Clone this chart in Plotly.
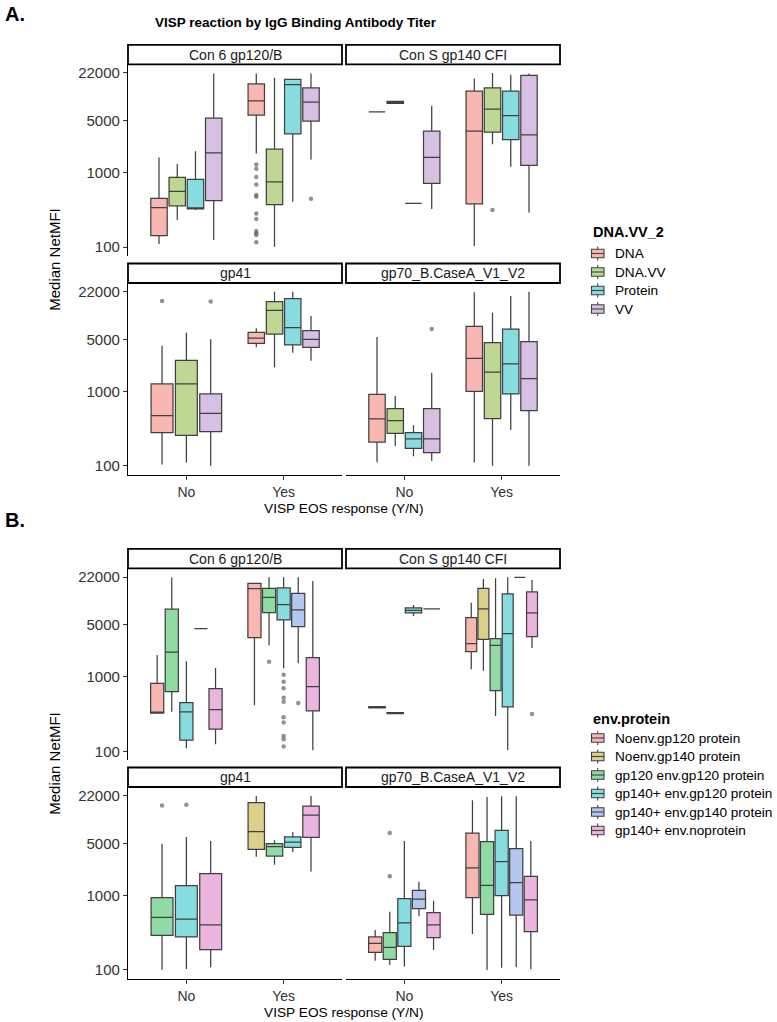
import plotly.graph_objects as go
import math

W, H = 777, 1022

CATS = ["No", "Yes"]
FACETS = ["Con 6 gp120/B", "Con S gp140 CFI", "gp41", "gp70_B.CaseA_V1_V2"]
Y_TICKS = [100, 1000, 5000, 22000]

GROUPS_A = ["DNA", "DNA.VV", "Protein", "VV"]
GROUPS_B = ["Noenv.gp120 protein", "Noenv.gp140 protein", "gp120 env.gp120 protein",
            "gp140+ env.gp120 protein", "gp140+ env.gp140 protein", "gp140+ env.noprotein"]

# (category, group, lower whisker, q1, median, q3, upper whisker)
A_CON6 = [
    ("No", "DNA", 110, 142, 338, 451, 1603),
    ("No", "DNA.VV", 231, 359, 560, 863, 1306),
    ("No", "Protein", 316, 327, 332, 811, 1950),
    ("No", "VV", 124, 420, 1853, 5420, 21600),
    ("Yes", "DNA", 1815, 5940, 9270, 15670, 21600),
    ("Yes", "DNA.VV", 101, 371, 755, 2075, 19050),
    ("Yes", "Protein", 407, 3335, 15350, 18100, 18100),
    ("Yes", "VV", 1507, 4940, 8890, 13870, 21600),
]
A_CON6_OUT = [("Yes", "DNA", [1291, 1130, 873, 695, 500, 475, 283, 238, 164, 153, 145, 116]),
              ("Yes", "VV", [447])]

A_CONS = [
    ("No", "DNA", 6590, 6590, 6590, 6590, 6590),
    ("No", "DNA.VV", 8610, 8610, 8880, 9160, 9160),
    ("No", "Protein", 386, 386, 386, 386, 386),
    ("No", "VV", 324, 718, 1603, 3620, 7940),
    ("Yes", "DNA", 103, 382, 3620, 12500, 18500),
    ("Yes", "DNA.VV", 2420, 3515, 7160, 13870, 22000),
    ("Yes", "Protein", 1203, 2800, 5890, 12500, 20900),
    ("Yes", "VV", 292, 1253, 3240, 20500, 21600),
]
A_CONS_OUT = [("Yes", "DNA.VV", [314])]

A_GP41 = [
    ("No", "DNA", 105, 281, 475, 1265, 4140),
    ("No", "DNA.VV", 111, 258, 1265, 2630, 6200),
    ("No", "VV", 101, 289, 510, 929, 5035),
    ("Yes", "DNA", 3940, 4460, 5250, 6270, 7080),
    ("Yes", "DNA.VV", 2117, 5940, 12360, 16200, 22000),
    ("Yes", "Protein", 3335, 4230, 7230, 17750, 22000),
    ("Yes", "VV", 2607, 3940, 5035, 6590, 10380),
]
A_GP41_OUT = [("No", "DNA", [16500]), ("No", "VV", [16200])]

A_GP70 = [
    ("No", "DNA", 112, 210, 429, 918, 5420),
    ("No", "DNA.VV", 186, 275, 406, 590, 873),
    ("No", "Protein", 135, 173, 231, 281, 352),
    ("No", "VV", 117, 151, 231, 590, 1795),
    ("Yes", "DNA", 111, 1008, 2800, 7530, 21600),
    ("Yes", "DNA.VV", 101, 432, 1832, 4550, 11510),
    ("Yes", "Protein", 305, 929, 2350, 6930, 19270),
    ("Yes", "VV", 101, 555, 1493, 4690, 22000),
]
A_GP70_OUT = [("No", "VV", [6930])]

B_CON6 = [
    ("No", "Noenv.gp120 protein", 327, 327, 334, 820, 1972),
    ("No", "gp120 env.gp120 protein", 341, 634, 2144, 8110, 21600),
    ("No", "gp140+ env.gp120 protein", 110, 141, 338, 451, 1622),
    ("No", "gp140+ env.gp140 protein", 4460, 4460, 4460, 4460, 4460),
    ("No", "gp140+ env.noprotein", 124, 198, 363, 695, 1318),
    ("Yes", "Noenv.gp120 protein", 415, 3375, 15350, 18100, 18100),
    ("Yes", "gp120 env.gp120 protein", 2660, 7310, 11750, 15520, 21800),
    ("Yes", "gp140+ env.gp120 protein", 1306, 5820, 9350, 15700, 21800),
    ("Yes", "gp140+ env.gp140 protein", 1524, 4740, 7940, 13300, 21800),
    ("Yes", "gp140+ env.noprotein", 103, 349, 740, 1815, 19450),
]
B_CON6_OUT = [("Yes", "gp120 env.gp120 protein", [1603]),
              ("Yes", "gp140+ env.gp120 protein", [1072, 863, 703, 526, 465, 286, 243, 161, 145, 116]),
              ("Yes", "gp140+ env.gp140 protein", [447])]

B_CONS = [
    ("No", "Noenv.gp120 protein", 382, 382, 390, 398, 398),
    ("No", "gp120 env.gp120 protein", 322, 322, 327, 332, 332),
    ("No", "gp140+ env.gp120 protein", 6590, 7230, 7850, 8450, 9270),
    ("No", "gp140+ env.gp140 protein", 8190, 8190, 8190, 8190, 8190),
    ("Yes", "Noenv.gp120 protein", 1265, 2190, 2800, 6270, 9950),
    ("Yes", "Noenv.gp140 protein", 1213, 3200, 8190, 15520, 20700),
    ("Yes", "gp120 env.gp120 protein", 298, 653, 2660, 3265, 21130),
    ("Yes", "gp140+ env.gp120 protein", 104, 394, 3820, 13030, 21800),
    ("Yes", "gp140+ env.gp140 protein", 21800, 21800, 21800, 21800, 21800),
    ("Yes", "gp140+ env.noprotein", 2448, 3475, 7230, 13870, 20100),
]
B_CONS_OUT = [("Yes", "gp140+ env.noprotein", [318])]

B_GP41 = [
    ("No", "gp120 env.gp120 protein", 101, 292, 510, 938, 4985),
    ("No", "gp140+ env.gp120 protein", 103, 278, 484, 1362, 6140),
    ("No", "gp140+ env.noprotein", 109, 188, 403, 1972, 5420),
    ("Yes", "Noenv.gp140 protein", 3335, 4190, 7230, 17750, 21800),
    ("Yes", "gp120 env.gp120 protein", 2607, 3405, 4550, 4985, 5535),
    ("Yes", "gp140+ env.gp120 protein", 3855, 4460, 5250, 6140, 7080),
    ("Yes", "gp140+ env.noprotein", 2100, 6070, 12100, 16000, 21800),
]
B_GP41_OUT = [("No", "gp120 env.gp120 protein", [16200]),
              ("No", "gp140+ env.gp120 protein", [16600])]

B_GP70 = [
    ("No", "Noenv.gp120 protein", 133, 173, 228, 278, 345),
    ("No", "gp120 env.gp120 protein", 117, 139, 202, 318, 608),
    ("No", "gp140+ env.gp120 protein", 111, 208, 429, 910, 5420),
    ("No", "gp140+ env.gp140 protein", 526, 667, 899, 1178, 1538),
    ("No", "gp140+ env.noprotein", 186, 272, 403, 590, 855),
    ("Yes", "Noenv.gp120 protein", 305, 938, 2350, 6930, 19050),
    ("Yes", "gp120 env.gp120 protein", 100, 560, 1374, 5310, 21130),
    ("Yes", "gp140+ env.gp120 protein", 107, 998, 2857, 7530, 21600),
    ("Yes", "gp140+ env.gp140 protein", 109, 548, 1493, 4275, 21600),
    ("Yes", "gp140+ env.noprotein", 102, 327, 873, 1815, 5420),
]
B_GP70_OUT = [("No", "gp120 env.gp120 protein", [6930, 1815])]

# ---------------- styles ----------------
FILLS_A = ["#F9B7B1", "#BED893", "#86DCDE", "#D8C0E5"]
FILLS_B = ["#F9B7B1", "#DBCF8C", "#8FDBA3", "#86DCDE", "#B3C7F0", "#ECB5E0"]
LINE_COL = "#404040"
FONT = "Liberation Sans, Arial, sans-serif"
XTICK_SIZE = 14
YTICK_SIZE = 15
STRIP_SIZE = 14
AXTITLE_SIZE = 13.7
LEG_SIZE = 13.6

# pixel layout of panels: columns (x0, x1) and rows (top, bottom) in px
COLS = [(128, 342), (346, 560)]
ROWS = {"A": [(64.3, 255.7), (283.0, 474.7)], "B": [(568.3, 760.0), (787.0, 978.7)]}
STRIP_H = 19.5
Y_RANGE = [math.log10(100) - 0.117, math.log10(22000) + 0.117]
X_RANGE = [0.4, 2.6]
DODGE_W = 0.75
PAD = 0.1

fig = go.Figure()
layout = {}
shapes = []
annotations = []

panels = [
    ("A", GROUPS_A, FILLS_A, [A_CON6, A_CONS, A_GP41, A_GP70], [A_CON6_OUT, A_CONS_OUT, A_GP41_OUT, A_GP70_OUT]),
    ("B", GROUPS_B, FILLS_B, [B_CON6, B_CONS, B_GP41, B_GP70], [B_CON6_OUT, B_CONS_OUT, B_GP41_OUT, B_GP70_OUT]),
]

ax = 0
for pname, groups, fills, facets_data, facets_out in panels:
    for fi, (fdata, fout) in enumerate(zip(facets_data, facets_out)):
        ax += 1
        r, c = fi // 2, fi % 2
        x0, x1 = COLS[c]
        top, bot = ROWS[pname][r]
        xa = "x" if ax == 1 else "x%d" % ax
        ya = "y" if ax == 1 else "y%d" % ax
        xkey = "xaxis" if ax == 1 else "xaxis%d" % ax
        ykey = "yaxis" if ax == 1 else "yaxis%d" % ax
        bottom_row = r == 1
        left_col = c == 0
        layout[xkey] = dict(
            domain=[x0 / W, x1 / W], range=X_RANGE, anchor=ya,
            tickmode="array", tickvals=[1, 2], ticktext=CATS,
            showticklabels=bottom_row, showline=bottom_row,
            ticks="outside" if bottom_row else "", ticklen=4, tickwidth=1.1, tickcolor="#333333",
            linecolor="black", linewidth=1.2, showgrid=False, zeroline=False,
            tickfont=dict(family=FONT, size=XTICK_SIZE, color="#333333"), fixedrange=True,
        )
        layout[ykey] = dict(
            domain=[1 - bot / H, 1 - top / H], type="log", range=Y_RANGE, anchor=xa,
            tickmode="array", tickvals=Y_TICKS, ticktext=[str(v) for v in Y_TICKS],
            showticklabels=left_col, showline=left_col,
            ticks="outside" if left_col else "", ticklen=4, tickwidth=1.1, tickcolor="#333333",
            linecolor="black", linewidth=1.2, showgrid=False, zeroline=False,
            tickfont=dict(family=FONT, size=YTICK_SIZE, color="#333333"), fixedrange=True,
        )
        # strip
        shapes.append(dict(type="rect", xref="paper", yref="paper",
                           x0=x0 / W, x1=x1 / W, y0=1 - top / H, y1=1 - (top - STRIP_H) / H,
                           line=dict(color="black", width=1.8), fillcolor="white", layer="above"))
        annotations.append(dict(text=FACETS[fi], xref="paper", yref="paper",
                                x=(x0 + x1) / 2 / W, y=1 - (top - STRIP_H / 2) / H,
                                showarrow=False, xanchor="center", yanchor="middle",
                                font=dict(family=FONT, size=STRIP_SIZE, color="#1a1a1a")))
        # boxes
        for ci, cat in enumerate(CATS):
            rows = [row for row in fdata if row[0] == cat]
            present = [g for g in groups if any(row[1] == g for row in rows)]
            n = len(present)
            slot = DODGE_W / n
            for row in rows:
                _, g, lo, q1, med, q3, hi = row
                i = present.index(g)
                pos = ci + 1 - DODGE_W / 2 + slot * (i + 0.5)
                fig.add_trace(go.Box(
                    x=[pos], q1=[q1], median=[med], q3=[q3], lowerfence=[lo], upperfence=[hi],
                    width=slot * (1 - PAD), xaxis=xa, yaxis=ya,
                    fillcolor=fills[groups.index(g)], line=dict(color=LINE_COL, width=1.25),
                    whiskerwidth=0, boxpoints=False, showlegend=False, hoverinfo="skip",
                ))
                for (oc, og, vals) in fout:
                    if oc == cat and og == g:
                        fig.add_trace(go.Scatter(
                            x=[pos] * len(vals), y=vals, mode="markers", xaxis=xa, yaxis=ya,
                            marker=dict(size=4.5, color="rgba(100,100,100,0.7)", line=dict(width=0)),
                            showlegend=False, hoverinfo="skip"))

    # axis titles for the panel
    top_px = ROWS[pname][0][0] - STRIP_H
    bot_px = ROWS[pname][1][1]
    annotations.append(dict(text="Median NetMFI", xref="paper", yref="paper",
                            x=55 / W, y=1 - (top_px + bot_px) / 2 / H, textangle=-90,
                            showarrow=False, xanchor="center", yanchor="middle",
                            font=dict(family=FONT, size=15, color="black")))
    annotations.append(dict(text="VISP EOS response (Y/N)", xref="paper", yref="paper",
                            x=(COLS[0][0] + COLS[1][1]) / 2 / W, y=1 - (bot_px + 33.5) / H,
                            showarrow=False, xanchor="center", yanchor="middle",
                            font=dict(family=FONT, size=AXTITLE_SIZE, color="black")))

# manual legends
LEGENDS = [
    ("DNA.VV_2", GROUPS_A, FILLS_A, 232, 253.5, 18.5),
    ("env.protein", GROUPS_B, FILLS_B, 719, 738, 18.5),
]
KX0, KX1 = 591.5, 604
for title, groups, fills, ty, y0, dy in LEGENDS:
    annotations.append(dict(text="<b>%s</b>" % title, xref="paper", yref="paper",
                            x=(KX0 - 1) / W, y=1 - ty / H, showarrow=False,
                            xanchor="left", yanchor="middle",
                            font=dict(family=FONT, size=14.5, color="black")))
    for i, (g, fc) in enumerate(zip(groups, fills)):
        yc = y0 + i * dy
        xm = (KX0 + KX1) / 2
        shapes.append(dict(type="line", xref="paper", yref="paper", x0=xm / W, x1=xm / W,
                           y0=1 - (yc - 7) / H, y1=1 - (yc + 7) / H,
                           line=dict(color=LINE_COL, width=1.1)))
        shapes.append(dict(type="rect", xref="paper", yref="paper", x0=KX0 / W, x1=KX1 / W,
                           y0=1 - (yc - 4.2) / H, y1=1 - (yc + 4.2) / H,
                           line=dict(color=LINE_COL, width=1.1), fillcolor=fc))
        shapes.append(dict(type="line", xref="paper", yref="paper", x0=KX0 / W, x1=KX1 / W,
                           y0=1 - yc / H, y1=1 - yc / H, line=dict(color=LINE_COL, width=1.1)))
        annotations.append(dict(text=g, xref="paper", yref="paper", x=(KX1 + 9) / W, y=1 - yc / H,
                                showarrow=False, xanchor="left", yanchor="middle",
                                font=dict(family=FONT, size=LEG_SIZE, color="black")))

# panel labels and main title
annotations.append(dict(text="<b>A.</b>", xref="paper", yref="paper", x=3 / W, y=1 - 14 / H,
                        showarrow=False, xanchor="left", yanchor="middle",
                        font=dict(family=FONT, size=20, color="black")))
annotations.append(dict(text="<b>B.</b>", xref="paper", yref="paper", x=3 / W, y=1 - 520 / H,
                        showarrow=False, xanchor="left", yanchor="middle",
                        font=dict(family=FONT, size=20, color="black")))
annotations.append(dict(text="<b>VISP reaction by IgG Binding Antibody Titer</b>", xref="paper", yref="paper",
                        x=296 / W, y=1 - 22 / H, showarrow=False, xanchor="center", yanchor="middle",
                        font=dict(family=FONT, size=13.5, color="black")))

fig.update_layout(
    width=W, height=H, margin=dict(l=0, r=0, t=0, b=0),
    paper_bgcolor="white", plot_bgcolor="white",
    boxmode="overlay", showlegend=False,
    shapes=shapes, annotations=annotations,
    **layout,
)

fig.write_html("out.html")
